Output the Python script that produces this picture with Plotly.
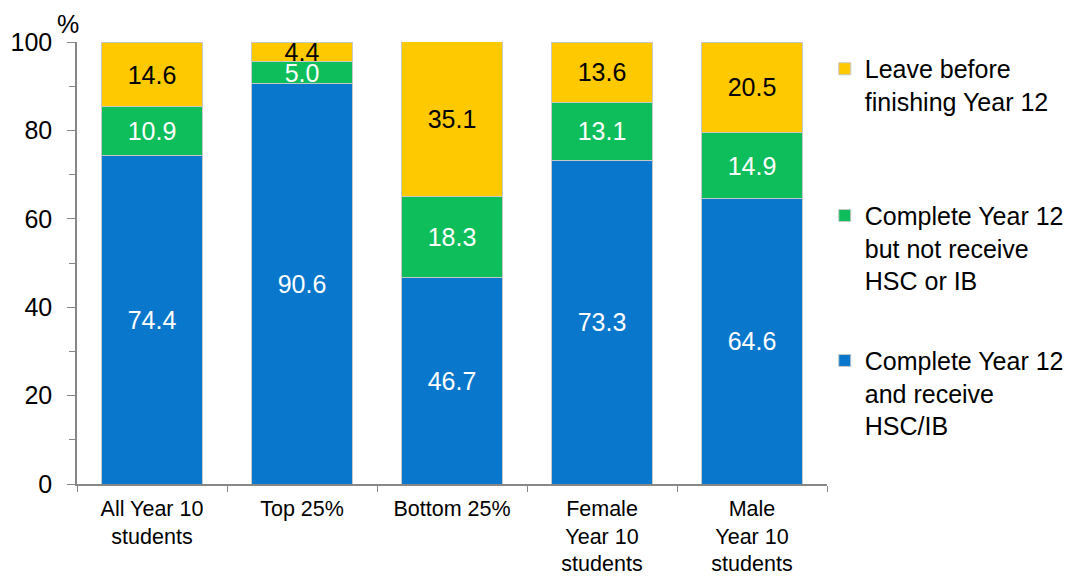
import plotly.graph_objects as go

categories = ["All Year 10<br>students", "Top 25%", "Bottom 25%",
              "Female<br>Year 10<br>students", "Male<br>Year 10<br>students"]
hsc = [74.4, 90.6, 46.7, 73.3, 64.6]
no_hsc = [10.9, 5.0, 18.3, 13.1, 14.9]
leave = [14.6, 4.4, 35.1, 13.6, 20.5]

series_names = ["Complete Year 12<br>and receive<br>HSC/IB",
                "Complete Year 12<br>but not receive<br>HSC or IB",
                "Leave before<br>finishing Year 12"]
colors = ["#0877CC", "#0DBE5B", "#FFC900"]
text_colors = ["white", "white", "black"]
legend_ids = ["legend3", "legend2", "legend"]
legend_y = [0.331, 0.659, 0.991]

FONT = "Liberation Sans, Arial, sans-serif"

fig = go.Figure()
for i, (vals, name) in enumerate(zip([hsc, no_hsc, leave], series_names)):
    fig.add_trace(go.Bar(
        x=categories, y=vals, name=name,
        marker=dict(color=colors[i], line=dict(color="#C8C8C8", width=1)),
        text=[f"{v:.1f}" for v in vals],
        textposition="inside", insidetextanchor="middle",
        textangle=0, constraintext="none",
        textfont=dict(color=text_colors[i], size=25, family=FONT),
        legend=legend_ids[i],
        width=0.667,
    ))

legend_common = dict(x=0.997, xanchor="left", yanchor="top", valign="top",
                     font=dict(size=25, family=FONT, color="black"),
                     bgcolor="rgba(0,0,0,0)")

fig.update_layout(
    barmode="stack",
    width=1073, height=570,
    margin=dict(l=69, r=254, t=34, b=93.5, autoexpand=False),
    plot_bgcolor="white", paper_bgcolor="white",
    font=dict(family=FONT, size=24, color="black"),
    showlegend=True,
    legend=dict(y=legend_y[2], **legend_common),
    legend2=dict(y=legend_y[1], **legend_common),
    legend3=dict(y=legend_y[0], **legend_common),
    xaxis=dict(
        automargin=False,
        showline=True, linecolor="#878787", linewidth=1.5,
        ticks="outside", tickson="boundaries", ticklen=6, tickcolor="#878787",
        tickfont=dict(size=21.5, family=FONT), showgrid=False,
        ticklabelstandoff=4,
    ),
    yaxis=dict(
        automargin=False,
        range=[0, 100], tickvals=[0, 20, 40, 60, 80, 100],
        showline=True, linecolor="#878787", linewidth=1.5,
        ticks="outside", ticklen=8, tickcolor="#878787",
        tickfont=dict(size=25, family=FONT), showgrid=False, zeroline=False,
        ticklabelstandoff=10,
        minor=dict(tickvals=[10, 30, 50, 70, 90], ticks="outside", ticklen=6,
                   tickcolor="#878787", showgrid=False),
    ),
    annotations=[dict(text="%", xref="paper", yref="paper", x=-0.012, y=1.04,
                      xanchor="center", yanchor="middle", showarrow=False,
                      font=dict(size=25, family=FONT, color="black"))],
)

fig.write_html("out.html")
